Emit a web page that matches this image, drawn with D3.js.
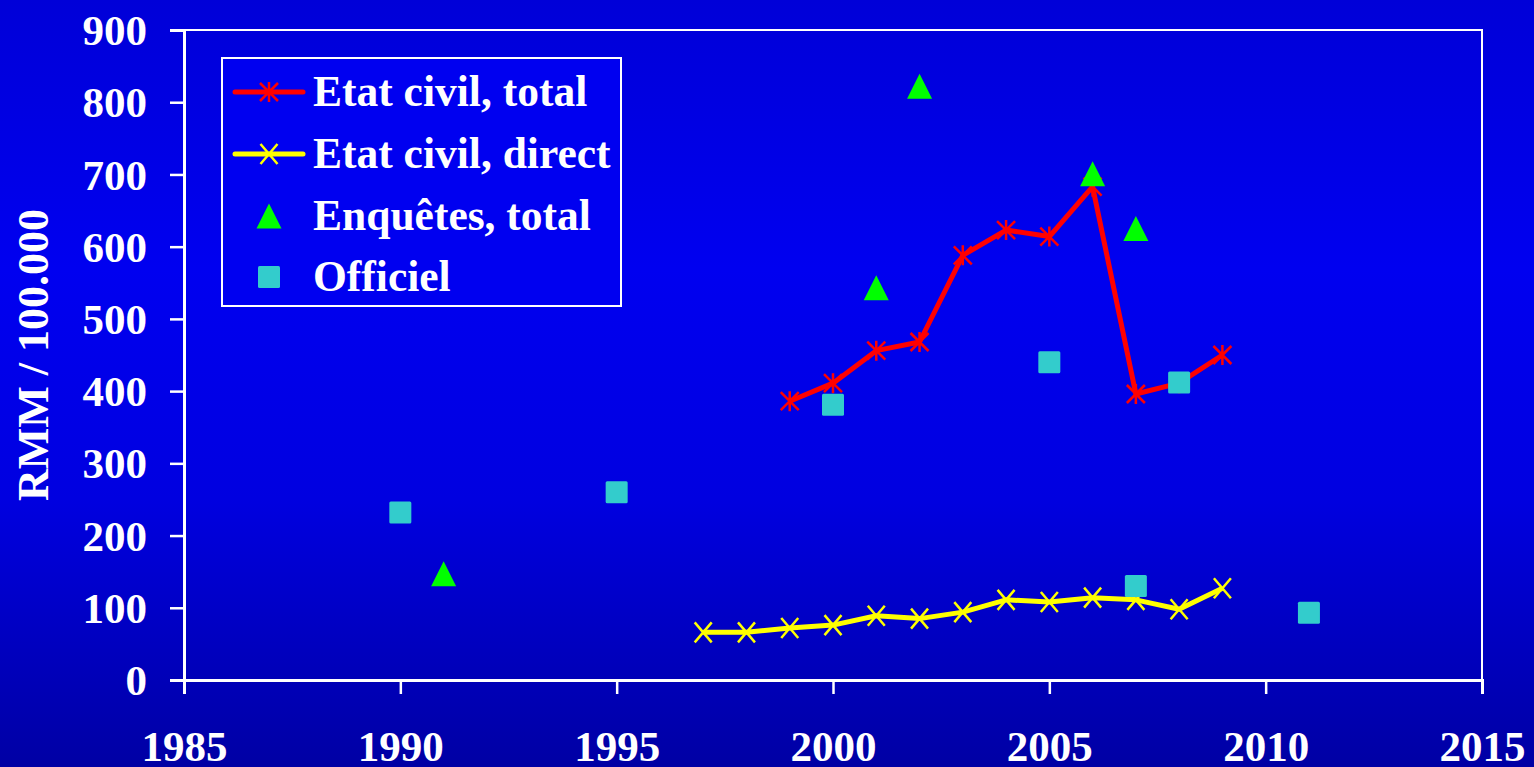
<!DOCTYPE html>
<html>
<head>
<meta charset="utf-8">
<script src="https://cdn.jsdelivr.net/npm/d3@7"></script>
<style>
  html, body { margin: 0; padding: 0; background: #0000cc; }
  svg { display: block; }
  text { font-family: "Liberation Serif", "Times New Roman", serif; font-weight: bold; fill: #ffffff; }
</style>
</head>
<body>
<svg id="chart" width="1534" height="767"></svg>
<script>
// ---- Data ----
const civilTotalYears  = [1999, 2000, 2001, 2002, 2003, 2004, 2005, 2006, 2007, 2008, 2009];
const civilTotalValues = [386, 411, 456, 468, 588, 623, 614, 683, 396, 411, 450];

const civilDirectYears  = [1997, 1998, 1999, 2000, 2001, 2002, 2003, 2004, 2005, 2006, 2007, 2008, 2009];
const civilDirectValues = [66, 66, 72, 76, 89, 85, 94, 111, 108, 114, 111, 98, 127];

const enqueteYears  = [1991, 2001, 2002, 2006, 2007];
const enqueteValues = [147, 543, 822, 701, 625];

const officielYears  = [1990, 1995, 2000, 2005, 2007, 2008, 2011];
const officielValues = [232, 260, 381, 440, 130, 412, 93];

const xTicks = [1985, 1990, 1995, 2000, 2005, 2010, 2015];
const yTicks = [0, 100, 200, 300, 400, 500, 600, 700, 800, 900];

const legendLabels = ["Etat civil, total", "Etat civil, direct", "Enquêtes, total", "Officiel"];
const yTitle = "RMM / 100.000";

// ---- Layout ----
const W = 1534, H = 767;
const plot = { left: 184, right: 1482, top: 30, bottom: 680 };

const svg = d3.select("#chart");

// background gradient
const defs = svg.append("defs");
const grad = defs.append("linearGradient").attr("id", "bg").attr("x1", 0).attr("y1", 0).attr("x2", 0).attr("y2", 1);
grad.append("stop").attr("offset", "0%").attr("stop-color", "#0000d8");
grad.append("stop").attr("offset", "35%").attr("stop-color", "#0000f0");
grad.append("stop").attr("offset", "65%").attr("stop-color", "#0000e0");
grad.append("stop").attr("offset", "100%").attr("stop-color", "#0000a4");
svg.append("rect").attr("width", W).attr("height", H).attr("fill", "url(#bg)");

const x = d3.scaleLinear().domain([1985, 2015]).range([plot.left, plot.right]);
const y = d3.scaleLinear().domain([0, 900]).range([plot.bottom, plot.top]);

// frame (top & right)
svg.append("path")
  .attr("d", `M${plot.left},${plot.top}H${plot.right}V${plot.bottom}`)
  .attr("fill", "none").attr("stroke", "#ffffff").attr("stroke-width", 2);

// y axis
const yAxis = svg.append("g").attr("transform", `translate(${plot.left},0)`)
  .call(d3.axisLeft(y).tickValues(yTicks).tickSize(14).tickPadding(23).tickFormat(d3.format("d")));
yAxis.selectAll("path, line").attr("stroke", "#ffffff").attr("stroke-width", 2.5);
yAxis.selectAll("text").attr("font-size", 43).attr("font-family", null).attr("fill", "#ffffff").attr("dy", "0.34em");

// x axis
const xAxis = svg.append("g").attr("transform", `translate(0,${plot.bottom})`)
  .call(d3.axisBottom(x).tickValues(xTicks).tickSize(14).tickPadding(36).tickFormat(d3.format("d")));
xAxis.selectAll("path, line").attr("stroke", "#ffffff").attr("stroke-width", 2.5);
xAxis.selectAll("text").attr("font-size", 43).attr("font-family", null).attr("fill", "#ffffff");
svg.selectAll(".domain").attr("stroke-width", 3);

// y title
svg.append("text")
  .attr("transform", `translate(48,${(plot.top + plot.bottom) / 2}) rotate(-90)`)
  .attr("text-anchor", "middle")
  .attr("font-size", 44)
  .text(yTitle);

// ---- marker shapes ----
const starPath = "M-9,-9L9,9M-9,9L9,-9M0,-10V10";
const xPath = "M-8.5,-10L8.5,10M-8.5,10L8.5,-10";
const triPath = "M0,-12.5L12.5,12.5L-12.5,12.5Z";

const line = d3.line().x(d => x(d[0])).y(d => y(d[1]));

const civilTotal = civilTotalYears.map((yr, i) => [yr, civilTotalValues[i]]);
const civilDirect = civilDirectYears.map((yr, i) => [yr, civilDirectValues[i]]);
const enquetes = enqueteYears.map((yr, i) => [yr, enqueteValues[i]]);
const officiel = officielYears.map((yr, i) => [yr, officielValues[i]]);

// yellow line
svg.append("path").datum(civilDirect).attr("d", line)
  .attr("fill", "none").attr("stroke", "#ffff00").attr("stroke-width", 5).attr("stroke-linejoin", "round");
svg.selectAll(".xm").data(civilDirect).join("path")
  .attr("transform", d => `translate(${x(d[0])},${y(d[1])})`)
  .attr("d", xPath).attr("stroke", "#ffff00").attr("stroke-width", 2.5).attr("fill", "none");

// red line
svg.append("path").datum(civilTotal).attr("d", line)
  .attr("fill", "none").attr("stroke", "#ff0000").attr("stroke-width", 5).attr("stroke-linejoin", "round");
svg.selectAll(".sm").data(civilTotal).join("path")
  .attr("transform", d => `translate(${x(d[0])},${y(d[1])})`)
  .attr("d", starPath).attr("stroke", "#ff0000").attr("stroke-width", 2.5).attr("fill", "none");

// triangles
svg.selectAll(".tri").data(enquetes).join("path")
  .attr("transform", d => `translate(${x(d[0])},${y(d[1])})`)
  .attr("d", triPath).attr("fill", "#00ff00");

// squares
svg.selectAll(".sq").data(officiel).join("rect")
  .attr("x", d => x(d[0]) - 11).attr("y", d => y(d[1]) - 11)
  .attr("width", 22).attr("height", 22).attr("rx", 1.5)
  .attr("fill", "#33cccc");

// ---- legend ----
const lg = svg.append("g");
lg.append("rect").attr("x", 222).attr("y", 58).attr("width", 399).attr("height", 248)
  .attr("fill", "#0000f0").attr("stroke", "#ffffff").attr("stroke-width", 2);
const rowY = [92, 154, 216, 277];
const lx0 = 235, lx1 = 303, lmx = 269;
// row 1
lg.append("line").attr("x1", lx0).attr("x2", lx1).attr("y1", rowY[0]).attr("y2", rowY[0])
  .attr("stroke", "#ff0000").attr("stroke-width", 5).attr("stroke-linecap", "round");
lg.append("path").attr("transform", `translate(${lmx},${rowY[0]})`).attr("d", starPath)
  .attr("stroke", "#ff0000").attr("stroke-width", 2.5);
// row 2
lg.append("line").attr("x1", lx0).attr("x2", lx1).attr("y1", rowY[1]).attr("y2", rowY[1])
  .attr("stroke", "#ffff00").attr("stroke-width", 5).attr("stroke-linecap", "round");
lg.append("path").attr("transform", `translate(${lmx},${rowY[1]})`).attr("d", xPath)
  .attr("stroke", "#ffff00").attr("stroke-width", 2.5);
// row 3
lg.append("path").attr("transform", `translate(${lmx},${rowY[2]})`).attr("d", triPath).attr("fill", "#00ff00");
// row 4
lg.append("rect").attr("x", lmx - 11).attr("y", rowY[3] - 11).attr("width", 22).attr("height", 22)
  .attr("rx", 1.5).attr("fill", "#33cccc");
lg.selectAll(".lt").data(legendLabels).join("text")
  .attr("x", 313).attr("y", (d, i) => rowY[i] + 14)
  .attr("font-size", 43.5).text(d => d);
</script>
</body>
</html>
